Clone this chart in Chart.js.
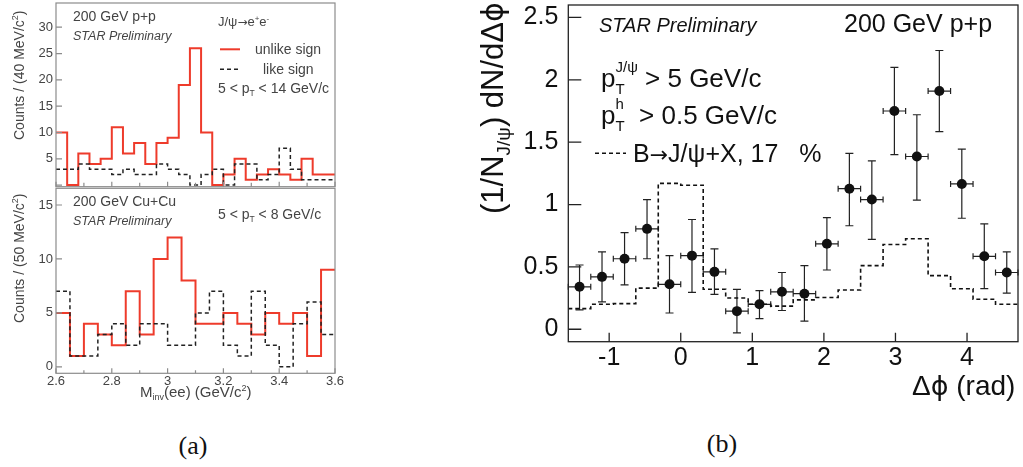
<!DOCTYPE html>
<html><head><meta charset="utf-8">
<script src="https://cdn.jsdelivr.net/npm/chart.js@4.4.1/dist/chart.umd.min.js"></script>
<style>
html,body{margin:0;padding:0;background:#fff;width:1023px;height:467px;overflow:hidden;position:relative}
canvas{position:absolute}
.cap{position:absolute;font-family:"Liberation Serif","DejaVu Serif",serif;font-size:26px;color:#111;transform:translate(-50%,-50%);white-space:nowrap}
</style></head><body>
<canvas id="ppc" width="345" height="190" style="left:0;top:0"></canvas>
<canvas id="cuc" width="345" height="225" style="left:0;top:187px"></canvas>
<canvas id="dphic" width="583" height="410" style="left:440px;top:0"></canvas>
<div class="cap" style="left:193px;top:446px">(a)</div>
<div class="cap" style="left:722px;top:444px">(b)</div>
<script>
// ---------------- DATA ----------------
// (a) top: 200 GeV p+p, 40 MeV bins
const ppEdges = [2.60,2.64,2.68,2.72,2.76,2.80,2.84,2.88,2.92,2.96,3.00,3.04,3.08,3.12,3.16,3.20,3.24,3.28,3.32,3.36,3.40,3.44,3.48,3.52,3.56,3.60];
const ppUnlike = [10,0,6,4,5,11,6,8,4,8,9,19,26,10,0,2,5,1,2,3,2,1,5,2,2];
const ppLike   = [3,3,4,3,3,2,3,2,2,4,3,2,0,2,3,0,4,4,1,2,7,3,1,1,1];
const ppYTicks = [0,5,10,15,20,25,30];

// (a) bottom: 200 GeV Cu+Cu, 50 MeV bins
const cuEdges = [2.60,2.65,2.70,2.75,2.80,2.85,2.90,2.95,3.00,3.05,3.10,3.15,3.20,3.25,3.30,3.35,3.40,3.45,3.50,3.55,3.60];
const cuUnlike = [5,1,4,3,2,7,3,10,12,8,4,4,5,4,3,5,4,5,1,9];
const cuLike   = [7,1,1,3,4,2,4,4,2,2,5,7,2,1,7,2,0,4,6,3];
const cuYTicks = [0,5,10,15];
const massTicks = [2.6,2.8,3.0,3.2,3.4,3.6];
const massMinorTicks = [2.7,2.9,3.1,3.3,3.5];

// (b) J/psi-hadron azimuthal correlation
const dphiCenters = [-1.414,-1.100,-0.785,-0.471,-0.157,0.157,0.471,0.785,1.100,1.414,1.728,2.042,2.356,2.670,2.985,3.299,3.613,3.927,4.241,4.555];
const dphiXErr = 0.157;
const dphiValues = [0.34,0.42,0.565,0.805,0.36,0.59,0.46,0.145,0.20,0.30,0.285,0.685,1.127,1.04,1.75,1.385,1.91,1.165,0.585,0.455];
const dphiErrHigh = [0.515,0.62,0.775,1.04,0.59,0.88,0.645,0.32,0.31,0.455,0.51,0.895,1.41,1.35,2.10,1.72,2.235,1.445,0.845,0.62];
const dphiErrLow  = [0.155,0.22,0.355,0.565,0.13,0.295,0.28,-0.03,0.085,0.15,0.065,0.475,0.83,0.72,1.40,1.035,1.585,0.89,0.325,0.29];
const dphiEdges = [-1.571,-1.257,-0.942,-0.628,-0.314,0,0.314,0.628,0.942,1.257,1.571,1.885,2.199,2.513,2.827,3.142,3.456,3.770,4.084,4.398,4.712];
const bToJpsi = [0.165,0.20,0.205,0.33,1.17,1.155,0.32,0.25,0.20,0.185,0.235,0.255,0.315,0.51,0.68,0.725,0.43,0.325,0.24,0.20];
const dphiXTicks = [-1,0,1,2,3,4];
const dphiYTicks = [0,0.5,1,1.5,2,2.5];

// ---------------- HELPERS ----------------
const SANS = '"Liberation Sans", Arial, Helvetica, sans-serif';
const DEJA = '"DejaVu Sans", sans-serif';
function stepPoints(edges, vals) {
  return edges.map((e, i) => ({x: e, y: vals[Math.min(i, vals.length - 1)]}));
}
function rich(ctx, x, y, segs, color, rot) {
  ctx.save();
  ctx.translate(x, y);
  if (rot) ctx.rotate(rot);
  ctx.fillStyle = color;
  ctx.textBaseline = 'alphabetic';
  ctx.textAlign = 'left';
  let cx = 0, held = 0;
  for (const g of segs) {
    ctx.font = (g.it ? 'italic ' : '') + g.s + 'px ' + (g.f || SANS);
    ctx.fillText(g.t, cx, g.dy || 0);
    const w = ctx.measureText(g.t).width;
    if (g.hold) held = Math.max(held, w);
    else { cx += Math.max(w, held); held = 0; }
  }
  ctx.restore();
}
function frameAndTicks(chart, color, width, yGroups, xGroups) {
  const {ctx, chartArea: a, scales} = chart;
  ctx.save();
  ctx.strokeStyle = color; ctx.lineWidth = width; ctx.setLineDash([]);
  ctx.strokeRect(a.left, a.top, a.right - a.left, a.bottom - a.top);
  ctx.beginPath();
  yGroups.forEach(g => g.values.forEach(v => {
    const p = scales.y.getPixelForValue(v);
    ctx.moveTo(a.left, p); ctx.lineTo(a.left + g.len, p);
  }));
  xGroups.forEach(g => g.values.forEach(v => {
    const p = scales.x.getPixelForValue(v);
    ctx.moveTo(p, a.bottom); ctx.lineTo(p, a.bottom - g.len);
  }));
  ctx.stroke();
  ctx.restore();
}
function setTicks(arr) { return s => { s.ticks = arr.map(v => ({value: v})); }; }

Chart.defaults.font.family = SANS;
Chart.defaults.animation = false;

const RED = '#ee3b2b';
const GRAYTXT = '#444';
const FRAMEA = '#8c8c8c';

// ---------------- (a) top ----------------
new Chart(document.getElementById('ppc'), {
  type: 'line',
  data: { datasets: [
    {data: stepPoints(ppEdges, ppLike), stepped: true, borderColor: '#222', borderWidth: 1.5, borderDash: [4,3], pointRadius: 0, fill: false},
    {data: stepPoints(ppEdges, ppUnlike), stepped: true, borderColor: RED, borderWidth: 2, pointRadius: 0, fill: false}
  ]},
  options: {
    responsive: false, devicePixelRatio: 1, animation: false,
    layout: {padding: {left: 0, right: 10, top: 3, bottom: 3.3}},
    plugins: {legend: {display: false}, tooltip: {enabled: false}},
    scales: {
      x: {type: 'linear', min: 2.6, max: 3.6, display: false},
      y: {type: 'linear', min: -0.3, max: 34.6,
          afterBuildTicks: setTicks(ppYTicks),
          afterFit: s => { s.width = 56; s.paddingTop = 0; s.paddingBottom = 0; },
          grid: {display: false, drawTicks: false}, border: {display: false},
          ticks: {autoSkip: false, padding: 3, color: GRAYTXT, font: {size: 13},
                  callback: v => v === 0 ? '' : String(v)}}
    }
  },
  plugins: [{
    id: 'ppDeco',
    afterDraw(chart) {
      const ctx = chart.ctx;
      frameAndTicks(chart, FRAMEA, 1.2,
        [{values: ppYTicks, len: 6}],
        [{values: massTicks, len: 5}, {values: massMinorTicks, len: 4}]);
      rich(ctx, 24, 140, [{t: 'Counts / (40 MeV/c', s: 14}, {t: '2', s: 9, dy: -6}, {t: ')', s: 14}], GRAYTXT, -Math.PI/2);
      rich(ctx, 73, 21, [{t: '200 GeV p+p', s: 14}], GRAYTXT);
      rich(ctx, 73, 40, [{t: 'STAR Preliminary', s: 12.5, it: true}], GRAYTXT);
      rich(ctx, 218, 26, [{t: 'J/ψ', s: 13}, {t: '→', s: 12, f: DEJA}, {t: 'e', s: 13}, {t: '+', s: 8, dy: -5}, {t: 'e', s: 13}, {t: '-', s: 8, dy: -5}], GRAYTXT);
      ctx.save();
      ctx.lineWidth = 2; ctx.strokeStyle = RED;
      ctx.beginPath(); ctx.moveTo(220, 49.3); ctx.lineTo(240, 49.3); ctx.stroke();
      ctx.lineWidth = 1.5; ctx.strokeStyle = '#222'; ctx.setLineDash([4,3]);
      ctx.beginPath(); ctx.moveTo(220, 69.3); ctx.lineTo(241, 69.3); ctx.stroke();
      ctx.restore();
      rich(ctx, 255, 53.5, [{t: 'unlike sign', s: 14}], GRAYTXT);
      rich(ctx, 263, 73.5, [{t: 'like sign', s: 14}], GRAYTXT);
      rich(ctx, 218, 92.7, [{t: '5 < p', s: 14}, {t: 'T', s: 8.5, dy: 3}, {t: ' < 14 GeV/c', s: 14}], GRAYTXT);
    }
  }]
});

// ---------------- (a) bottom ----------------
new Chart(document.getElementById('cuc'), {
  type: 'line',
  data: { datasets: [
    {data: stepPoints(cuEdges, cuLike), stepped: true, borderColor: '#222', borderWidth: 1.5, borderDash: [4,3], pointRadius: 0, fill: false},
    {data: stepPoints(cuEdges, cuUnlike), stepped: true, borderColor: RED, borderWidth: 2, pointRadius: 0, fill: false}
  ]},
  options: {
    responsive: false, devicePixelRatio: 1, animation: false,
    layout: {padding: {left: 0, right: 10, top: 1.3, bottom: 0}},
    plugins: {legend: {display: false}, tooltip: {enabled: false}},
    scales: {
      x: {type: 'linear', min: 2.6, max: 3.6,
          afterBuildTicks: setTicks(massTicks),
          afterFit: s => { s.height = 38.7; s.paddingLeft = 0; s.paddingRight = 0; },
          grid: {display: false, drawTicks: false}, border: {display: false},
          ticks: {autoSkip: false, maxRotation: 0, padding: 0, color: GRAYTXT, font: {size: 13},
                  callback: v => String(v)}},
      y: {type: 'linear', min: -0.6, max: 16.55,
          afterBuildTicks: setTicks(cuYTicks),
          afterFit: s => { s.width = 56; s.paddingTop = 0; s.paddingBottom = 0; },
          grid: {display: false, drawTicks: false}, border: {display: false},
          ticks: {autoSkip: false, padding: 3, color: GRAYTXT, font: {size: 13},
                  callback: v => String(v)}}
    }
  },
  plugins: [{
    id: 'cuDeco',
    afterDraw(chart) {
      const ctx = chart.ctx;
      frameAndTicks(chart, FRAMEA, 1.2,
        [{values: cuYTicks, len: 6}],
        [{values: massTicks, len: 5}, {values: massMinorTicks, len: 3}]);
      rich(ctx, 24, 136, [{t: 'Counts / (50 MeV/c', s: 14}, {t: '2', s: 9, dy: -6}, {t: ')', s: 14}], GRAYTXT, -Math.PI/2);
      rich(ctx, 73, 19, [{t: '200 GeV Cu+Cu', s: 14}], GRAYTXT);
      rich(ctx, 73, 38, [{t: 'STAR Preliminary', s: 12.5, it: true}], GRAYTXT);
      rich(ctx, 218, 32.3, [{t: '5 < p', s: 14}, {t: 'T', s: 8.5, dy: 3}, {t: ' < 8 GeV/c', s: 14}], GRAYTXT);
      rich(ctx, 140, 210.3, [{t: 'M', s: 15}, {t: 'inv', s: 9, dy: 3}, {t: '(ee) (GeV/c', s: 15}, {t: '2', s: 9, dy: -6}, {t: ')', s: 15}], GRAYTXT);
    }
  }]
});

// ---------------- (b) ----------------
new Chart(document.getElementById('dphic'), {
  type: 'line',
  data: { datasets: [
    {data: stepPoints(dphiEdges, bToJpsi), stepped: true, borderColor: '#111', borderWidth: 1.6, borderDash: [4,3], pointRadius: 0, fill: false},
    {data: dphiCenters.map((c, i) => ({x: c, y: dphiValues[i]})), showLine: false,
     pointRadius: 5, pointBackgroundColor: '#111', pointBorderColor: '#111', pointBorderWidth: 0}
  ]},
  options: {
    responsive: false, devicePixelRatio: 1, animation: false,
    layout: {padding: {left: 0, right: 4.7, top: 1.7, bottom: 0}},
    plugins: {legend: {display: false}, tooltip: {enabled: false}},
    scales: {
      x: {type: 'linear', min: -1.571, max: 4.712,
          afterBuildTicks: setTicks(dphiXTicks),
          afterFit: s => { s.height = 68.3; s.paddingLeft = 0; s.paddingRight = 0; },
          grid: {display: false, drawTicks: false}, border: {display: false},
          ticks: {autoSkip: false, maxRotation: 0, padding: 1, color: '#111', font: {size: 25},
                  callback: v => String(v)}},
      y: {type: 'linear', min: -0.1, max: 2.6,
          afterBuildTicks: setTicks(dphiYTicks),
          afterFit: s => { s.width = 128.3; s.paddingTop = 0; s.paddingBottom = 0; },
          grid: {display: false, drawTicks: false}, border: {display: false},
          ticks: {autoSkip: false, padding: 10, color: '#111', font: {size: 25},
                  callback: v => String(v)}}
    }
  },
  plugins: [{
    id: 'errBars',
    beforeDatasetsDraw(chart) {
      const {ctx, scales: {x, y}} = chart;
      ctx.save();
      ctx.strokeStyle = '#222'; ctx.lineWidth = 1.2;
      ctx.beginPath();
      dphiCenters.forEach((c, i) => {
        const px = x.getPixelForValue(c), py = y.getPixelForValue(dphiValues[i]);
        const pt = y.getPixelForValue(dphiErrHigh[i]), pb = y.getPixelForValue(dphiErrLow[i]);
        const pl = x.getPixelForValue(c - dphiXErr), pr = x.getPixelForValue(c + dphiXErr);
        ctx.moveTo(px, pt); ctx.lineTo(px, pb);
        ctx.moveTo(px - 4, pt); ctx.lineTo(px + 4, pt);
        ctx.moveTo(px - 4, pb); ctx.lineTo(px + 4, pb);
        ctx.moveTo(pl, py); ctx.lineTo(pr, py);
        ctx.moveTo(pl, py - 3); ctx.lineTo(pl, py + 3);
        ctx.moveTo(pr, py - 3); ctx.lineTo(pr, py + 3);
      });
      ctx.stroke();
      ctx.restore();
    },
    afterDraw(chart) {
      const ctx = chart.ctx;
      frameAndTicks(chart, '#222', 1.3,
        [{values: dphiYTicks, len: 13}],
        [{values: dphiXTicks, len: 9}]);
      rich(ctx, 63, 214, [{t: '(1/N', s: 31}, {t: 'J/ψ', s: 19, dy: 7}, {t: ') dN/dΔ', s: 31}, {t: 'ϕ', s: 30, f: DEJA}], '#111', -Math.PI/2);
      rich(ctx, 472, 395, [{t: 'Δ', s: 28}, {t: 'ϕ', s: 27, f: DEJA}, {t: ' (rad)', s: 28}], '#111');
      rich(ctx, 159, 31.7, [{t: 'STAR Preliminary', s: 20, it: true}], '#111');
      rich(ctx, 404, 32, [{t: '200 GeV p+p', s: 25}], '#111');
      rich(ctx, 161, 87, [{t: 'p', s: 26}, {t: 'T', s: 15, dy: 7, hold: true}, {t: 'J/ψ', s: 15, dy: -15}, {t: ' > 5 GeV/c', s: 26}], '#111');
      rich(ctx, 161, 124, [{t: 'p', s: 26}, {t: 'T', s: 15, dy: 7, hold: true}, {t: 'h', s: 15, dy: -15}, {t: '  > 0.5 GeV/c', s: 26}], '#111');
      ctx.save();
      ctx.strokeStyle = '#111'; ctx.lineWidth = 1.6; ctx.setLineDash([4,3]);
      ctx.beginPath(); ctx.moveTo(155, 153.3); ctx.lineTo(186, 153.3); ctx.stroke();
      ctx.restore();
      rich(ctx, 193, 162, [{t: 'B', s: 25}, {t: '→', s: 22, f: DEJA}, {t: 'J/ψ+X, 17   %', s: 25}], '#111');
    }
  }]
});
</script>
</body></html>
